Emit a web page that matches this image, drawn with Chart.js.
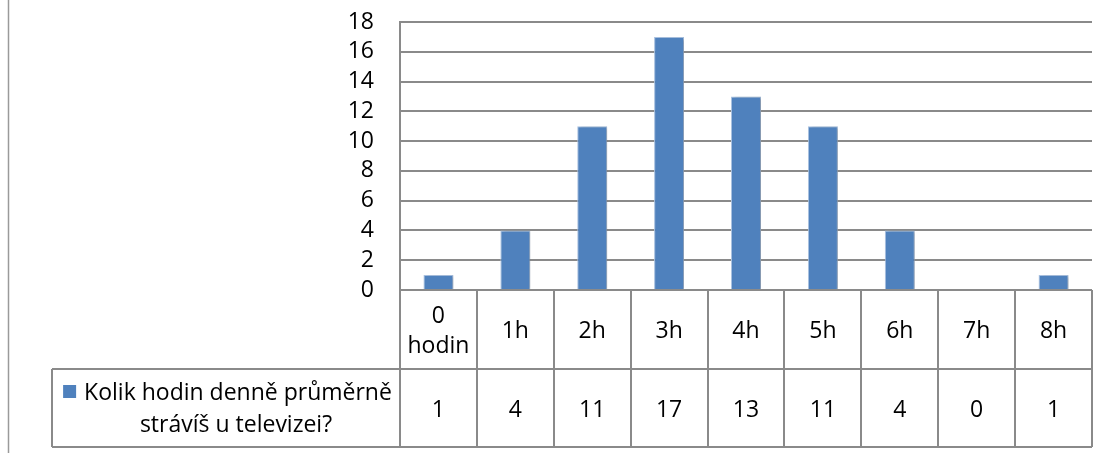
<!DOCTYPE html>
<html>
<head>
<meta charset="utf-8">
<script src="https://cdn.jsdelivr.net/npm/chart.js@4/dist/chart.umd.min.js"></script>
<style>
  html, body { margin: 0; padding: 0; background: #fff; }
  #wrap { width: 1111px; height: 453px; position: relative; }
</style>
</head>
<body>
<div id="wrap"><canvas id="c"></canvas></div>
<script>
// Survey: average hours per day spent watching TV
const categories = [['0', 'hodin'], ['1h'], ['2h'], ['3h'], ['4h'], ['5h'], ['6h'], ['7h'], ['8h']];
const seriesName = ['Kolik hodin denně průměrně', 'strávíš u televizei?'];
const values = [1, 4, 11, 17, 13, 11, 4, 0, 1];
const yTicks = [0, 2, 4, 6, 8, 10, 12, 14, 16, 18];

const FONT = "'Open Sans', sans-serif";
const FONT_SIZE = 23;
const LINE = '#8a8a8a';
const BAR = '#4f81bd';

// Data table under the plot: category row + value row with legend cell
const dataTable = {
  id: 'dataTable',
  afterDraw(chart) {
    const ctx = chart.ctx;
    const x = chart.scales.x;
    const area = chart.chartArea;
    const n = categories.length;
    const colW = (area.right - area.left) / n;
    const top = area.bottom;
    const mid = top + 79;
    const bot = top + 157;
    const legendLeft = 52;

    ctx.save();
    ctx.strokeStyle = LINE;
    ctx.lineWidth = 2;
    ctx.beginPath();
    // horizontal rules
    ctx.moveTo(area.left, top); ctx.lineTo(area.right, top);
    ctx.moveTo(legendLeft, mid); ctx.lineTo(area.right, mid);
    ctx.moveTo(legendLeft, bot); ctx.lineTo(area.right, bot);
    // column separators
    for (let i = 0; i <= n; i++) {
      const cx = Math.round(area.left + i * colW);
      ctx.moveTo(cx, top); ctx.lineTo(cx, bot);
    }
    ctx.moveTo(legendLeft, mid); ctx.lineTo(legendLeft, bot);
    ctx.stroke();

    ctx.fillStyle = '#000';
    ctx.font = FONT_SIZE + 'px ' + FONT;
    ctx.textAlign = 'center';
    ctx.textBaseline = 'middle';
    categories.forEach((lines, i) => {
      const cx = x.getPixelForValue(i);
      const lh = 30;
      const cy = (top + mid) / 2 + 2;
      lines.forEach((t, k) => {
        ctx.fillText(t, cx, cy + (k - (lines.length - 1) / 2) * lh);
      });
      ctx.fillText(String(values[i]), cx, (mid + bot) / 2 + 2);
    });

    // legend cell
    const lx = 238;
    const ly = (mid + bot) / 2;
    ctx.fillText(seriesName[0], lx, ly - 15);
    ctx.fillText(seriesName[1], lx - 2, ly + 17);
    const w0 = ctx.measureText(seriesName[0]).width;
    ctx.fillStyle = BAR;
    ctx.fillRect(lx - w0 / 2 - 21, ly - 23, 13, 13);

    // outer frame edge on the left
    ctx.strokeStyle = '#9a9a9a';
    ctx.lineWidth = 1.5;
    ctx.beginPath();
    ctx.moveTo(8.5, 0); ctx.lineTo(8.5, chart.height);
    ctx.stroke();
    ctx.restore();
  }
};

// Soft drop shadow behind the bars
const barShadow = {
  id: 'barShadow',
  beforeDatasetsDraw(chart) {
    const ctx = chart.ctx;
    ctx.save();
    ctx.shadowColor = 'rgba(0,0,0,0.22)';
    ctx.shadowBlur = 3;
    ctx.shadowOffsetX = 3;
    ctx.shadowOffsetY = 1;
  },
  afterDatasetsDraw(chart) {
    chart.ctx.restore();
  }
};

new Chart(document.getElementById('c'), {
  type: 'bar',
  data: {
    labels: categories.map(c => c.join(' ')),
    datasets: [{
      label: seriesName.join(' '),
      data: values,
      backgroundColor: BAR,
      borderColor: '#a9c1e0',
      borderWidth: 1,
      barPercentage: 0.78,
      categoryPercentage: 0.5
    }]
  },
  options: {
    responsive: true,
    maintainAspectRatio: false,
    animation: false,
    layout: { padding: { left: 0, top: 22, right: 19, bottom: 163 } },
    plugins: { legend: { display: false }, tooltip: { enabled: false } },
    scales: {
      x: { display: false, offset: true },
      y: {
        min: 0,
        max: 18,
        afterFit(scale) {
          scale.width = 400;
          scale.paddingTop = 0;
          scale.paddingBottom = 0;
        },
        afterBuildTicks(scale) { scale.ticks = yTicks.map(v => ({ value: v })); },
        ticks: {
          autoSkip: false,
          padding: 26,
          color: '#000',
          font: { family: FONT, size: FONT_SIZE }
        },
        grid: { color: LINE, lineWidth: 2, drawTicks: false },
        border: { color: LINE, width: 2 }
      }
    }
  },
  plugins: [barShadow, dataTable]
});
</script>
</body>
</html>
